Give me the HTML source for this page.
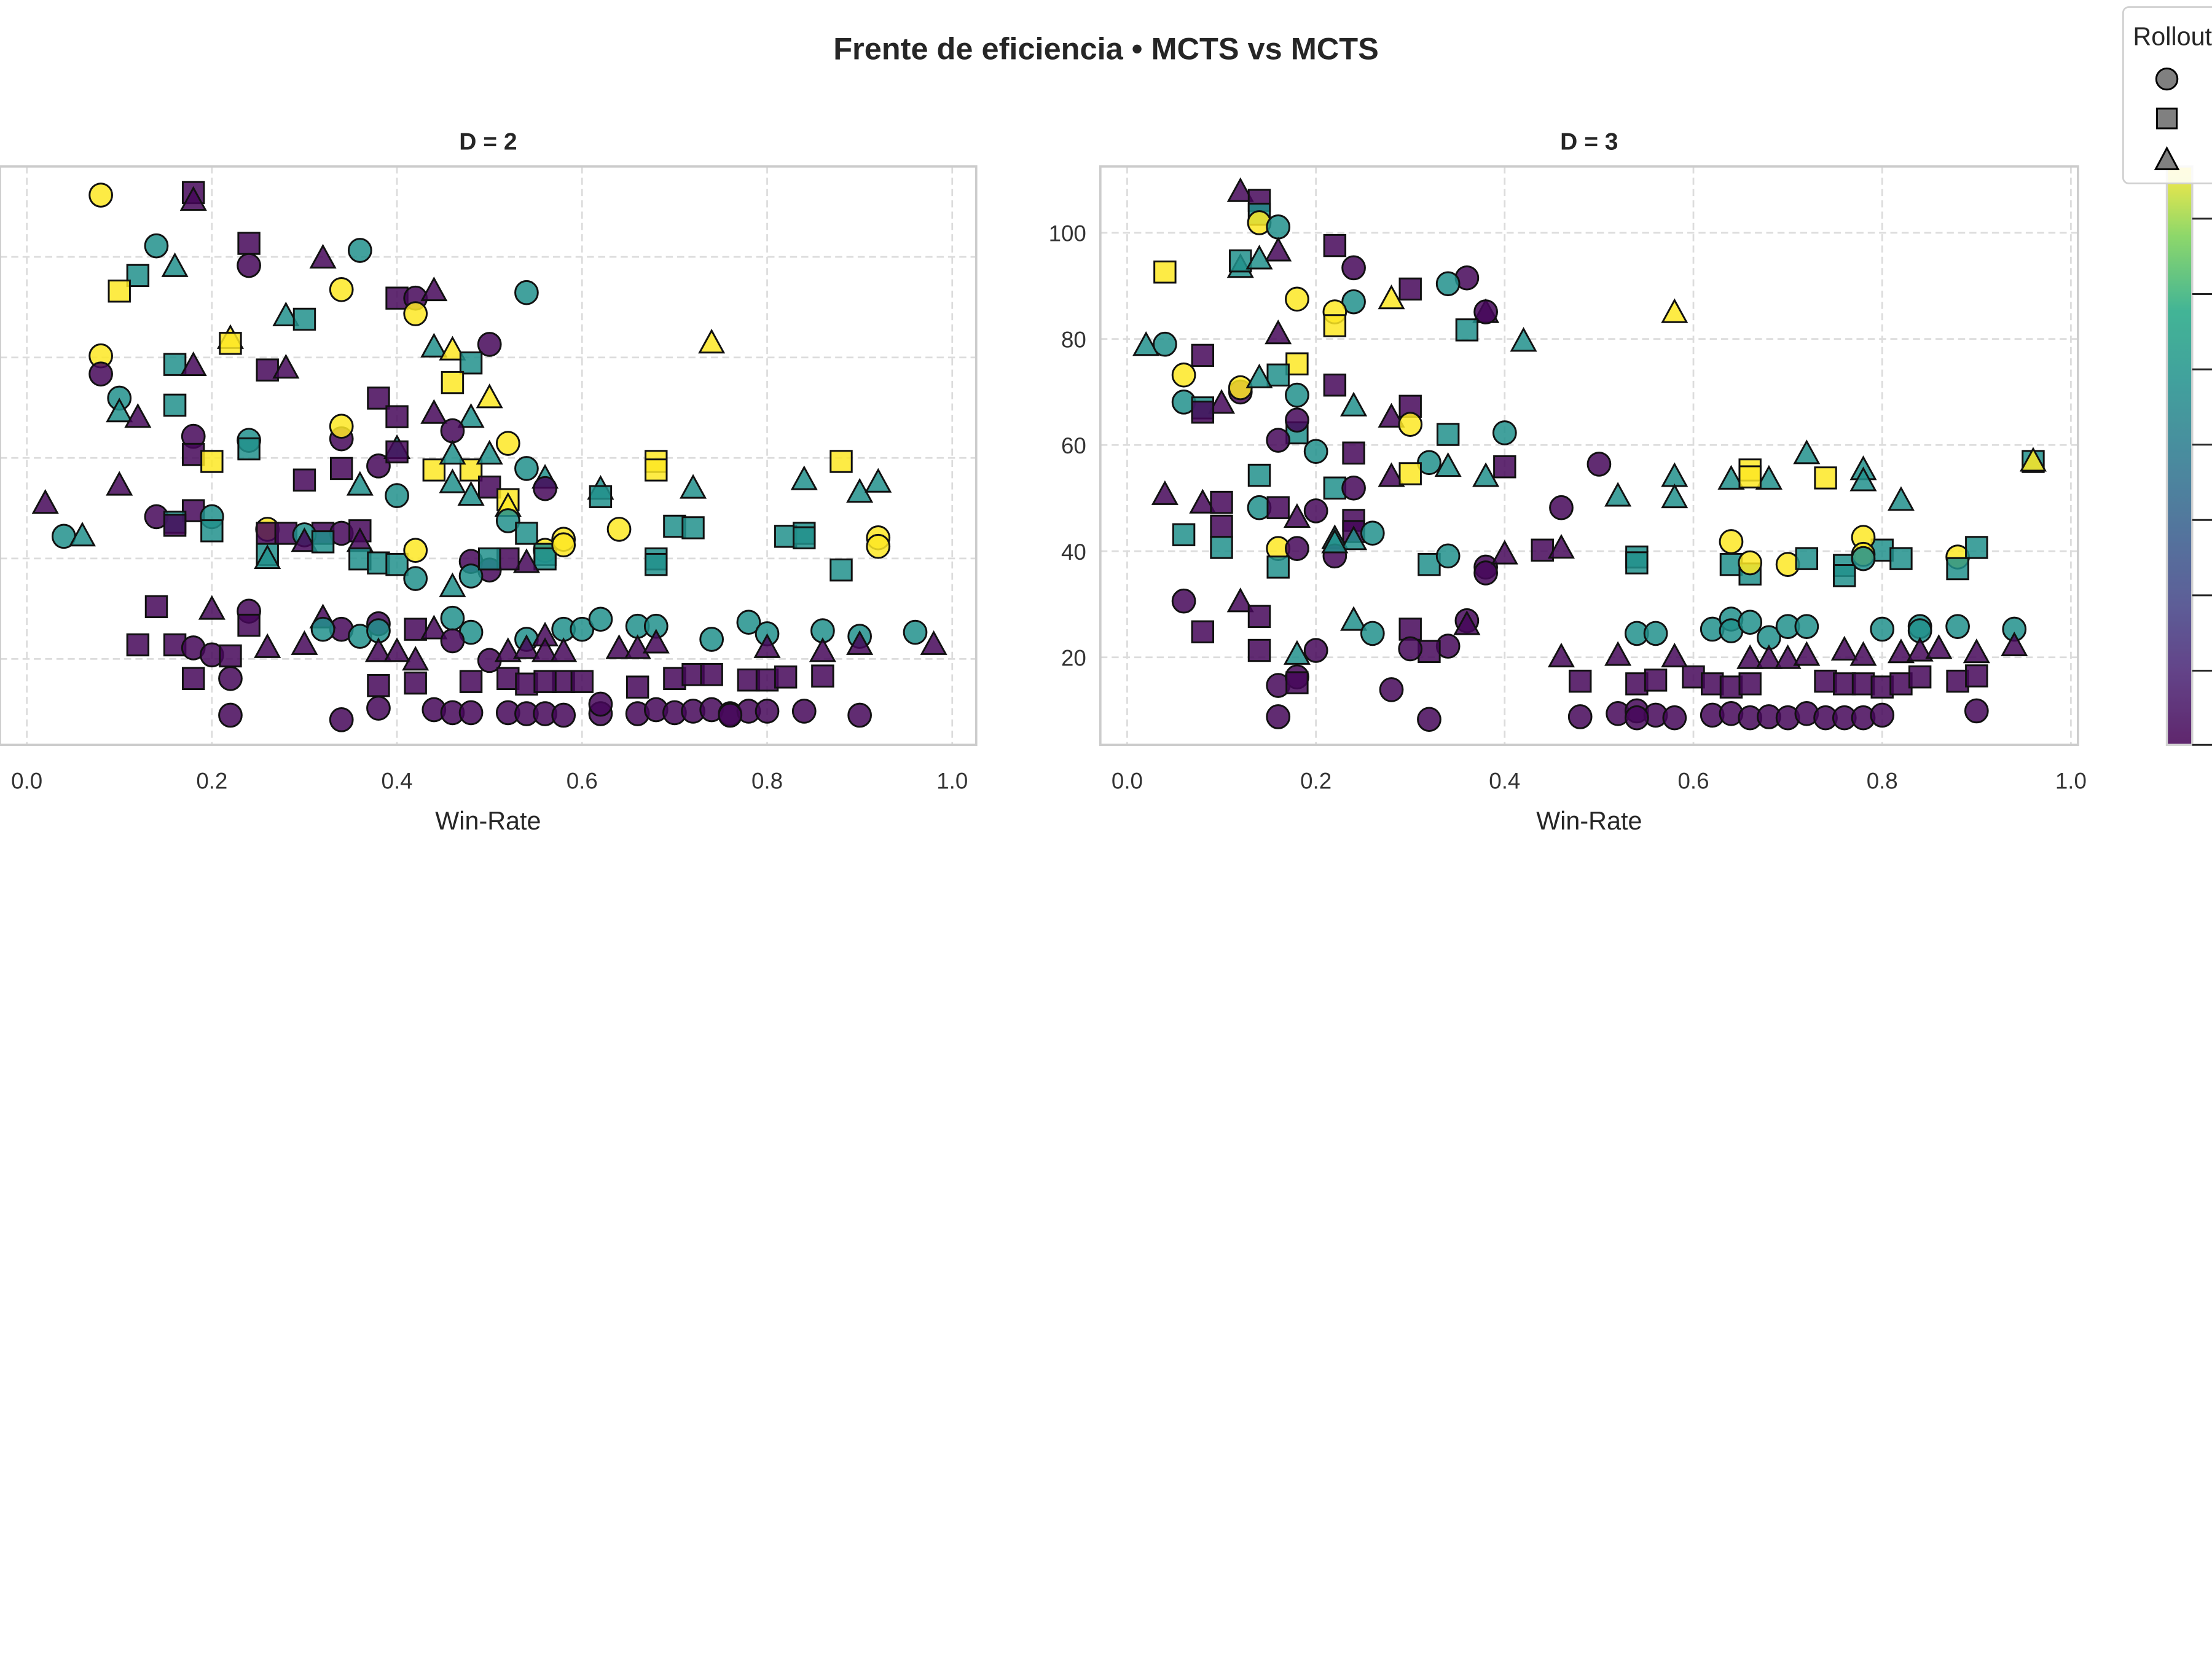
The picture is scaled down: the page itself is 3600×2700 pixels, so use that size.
<!DOCTYPE html>
<html><head><meta charset="utf-8"><style>
html,body{margin:0;padding:0;background:#fff;}
svg{display:block;font-family:"Liberation Sans",Arial,sans-serif;}
</style></head><body>
<svg id="chart" width="3600" height="2700" viewBox="0 0 1568 1176" xmlns="http://www.w3.org/2000/svg">
<defs>
<linearGradient id="vir" x1="0" y1="1" x2="0" y2="0">
<stop offset="0" stop-color="#440154"/><stop offset="0.13" stop-color="#482475"/><stop offset="0.25" stop-color="#414487"/><stop offset="0.38" stop-color="#355f8d"/><stop offset="0.5" stop-color="#2a788e"/><stop offset="0.63" stop-color="#21918c"/><stop offset="0.75" stop-color="#22a884"/><stop offset="0.88" stop-color="#7ad151"/><stop offset="1" stop-color="#fde725"/>
</linearGradient>
</defs>
<text x="784" y="42" text-anchor="middle" font-size="22" font-weight="bold" fill="#262626">Frente de eficiencia • MCTS vs MCTS</text>
<g id="panels"></g>
<g>
<rect x="1536" y="118" width="18" height="410" fill="url(#vir)" opacity="0.85" stroke="#ccc" stroke-width="1.5"/>
<g id="cbticks"></g>
</g>
<g>
<rect x="1505" y="5" width="70" height="125" rx="4" fill="#fff" fill-opacity="0.85" stroke="#d0d0d0" stroke-width="1.2"/>
<text x="1512" y="32" font-size="18" fill="#262626">Rollouts</text>
<circle cx="1536" cy="56" r="7.5" fill="#808080" stroke="#000" stroke-width="1.3"/>
<rect x="1529" y="77" width="14" height="14" fill="#808080" stroke="#000" stroke-width="1.3"/>
<polygon points="1536,105 1544,120 1528,120" fill="#808080" stroke="#000" stroke-width="1.3"/>
</g>
</svg>
<script>
const xTicks = [0.0, 0.2, 0.4, 0.6, 0.8, 1.0];
const yTicks = [20, 40, 60, 80, 100];
const cbTicks = [0, 1, 2, 3, 4, 5, 6, 7];
const panelTitles = ["D = 2", "D = 3"];
const colorVals = [0.02, 0.62, 1.0];
// [winRate, value, colorCategory, marker]
const pointsD2 = [
[0.08,112.3,2,'o'],[0.18,112.8,0,'s'],[0.18,111.2,0,'^'],[0.14,102.2,1,'o'],[0.24,102.7,0,'s'],[0.24,98.3,0,'o'],[0.36,101.3,1,'o'],[0.32,99.7,0,'^'],[0.12,96.3,1,'s'],[0.16,98,1,'^'],
[0.10,93.2,2,'s'],[0.34,93.5,2,'o'],[0.54,92.9,1,'o'],[0.40,91.8,0,'s'],[0.42,91.8,0,'o'],[0.44,93.2,0,'^'],[0.42,88.7,2,'o'],[0.28,88.2,1,'^'],[0.30,87.6,1,'s'],[0.22,83.7,2,'^'],
[0.22,82.8,2,'s'],[0.50,82.6,0,'o'],[0.44,82,1,'^'],[0.46,81.4,2,'^'],[0.48,78.9,1,'s'],[0.74,82.8,2,'^'],[0.08,80.3,2,'o'],[0.08,76.7,0,'o'],[0.16,78.6,1,'s'],[0.18,78.3,0,'^'],
[0.26,77.5,0,'s'],[0.28,77.8,0,'^'],[0.46,75,2,'s'],[0.50,71.9,2,'^'],[0.10,71.9,1,'o'],[0.16,70.5,1,'s'],[0.10,69.1,1,'^'],[0.12,68,0,'^'],[0.38,71.9,0,'s'],[0.40,68.2,0,'s'],
[0.44,68.8,0,'^'],[0.48,68,1,'^'],[0.46,65.4,0,'o'],[0.24,63.5,1,'o'],[0.18,64.3,0,'o'],[0.34,63.8,0,'o'],[0.34,66.3,2,'o'],[0.52,62.9,2,'o'],[0.18,60.7,0,'s'],[0.20,59.3,2,'s'],
[0.24,61.8,1,'s'],[0.30,55.6,0,'s'],[0.34,57.9,0,'s'],[0.38,58.4,0,'o'],[0.40,61.8,1,'^'],[0.40,61.2,0,'s'],[0.44,57.6,2,'s'],[0.48,57.6,2,'s'],[0.46,60.7,1,'^'],[0.50,60.7,1,'^'],
[0.54,57.9,1,'o'],[0.56,55.9,1,'^'],[0.56,53.9,0,'o'],[0.68,59.3,2,'s'],[0.68,57.6,2,'s'],[0.62,53.7,1,'^'],[0.62,52.3,1,'s'],[0.72,53.9,1,'^'],[0.88,59.3,2,'s'],[0.84,55.6,1,'^'],
[0.90,53.1,1,'^'],[0.92,55.1,1,'^'],[0.36,54.5,1,'^'],[0.02,50.9,0,'^'],[0.10,54.5,0,'^'],[0.40,52.5,1,'o'],[0.46,55,1,'^'],[0.48,52.5,1,'^'],[0.50,54.2,0,'s'],[0.52,51.7,2,'s'],
[0.52,50.3,2,'^'],[0.52,47.5,1,'o'],[0.04,44.4,1,'o'],[0.06,44.4,1,'^'],[0.14,48.3,0,'o'],[0.18,49.5,0,'s'],[0.20,48.3,1,'o'],[0.16,47.2,1,'s'],[0.16,46.6,0,'s'],[0.26,45.8,2,'o'],
[0.26,45,0,'s'],[0.28,45,0,'s'],[0.32,45,0,'s'],[0.30,44.7,1,'o'],[0.34,45,0,'o'],[0.36,45.5,0,'s'],[0.20,45.5,1,'s'],[0.26,40.8,1,'s'],[0.26,39.9,1,'^'],[0.30,43.3,0,'^'],
[0.36,43.3,0,'^'],[0.36,39.9,1,'s'],[0.38,39.1,1,'s'],[0.40,38.8,1,'s'],[0.42,41.6,2,'o'],[0.32,43.3,1,'s'],[0.54,45,1,'s'],[0.56,41.6,2,'o'],[0.56,40.8,1,'s'],[0.56,39.9,1,'s'],
[0.58,43.8,2,'o'],[0.58,42.7,2,'o'],[0.64,45.8,2,'o'],[0.68,39.9,1,'s'],[0.68,38.8,1,'s'],[0.70,46.4,1,'s'],[0.72,46.1,1,'s'],[0.82,44.4,1,'s'],[0.84,45,1,'s'],[0.84,44.1,1,'s'],
[0.88,37.7,1,'s'],[0.92,44.1,2,'o'],[0.92,42.4,2,'o'],[0.48,39.4,0,'o'],[0.50,37.7,0,'o'],[0.48,36.5,1,'o'],[0.54,39.1,0,'^'],[0.52,39.9,0,'s'],[0.50,39.9,1,'s'],[0.42,36,1,'o'],
[0.46,34.3,1,'^'],[0.14,30.4,0,'s'],[0.20,29.8,0,'^'],[0.24,29.5,0,'o'],[0.24,26.7,0,'s'],[0.46,28.1,1,'o'],[0.32,28.1,0,'^'],[0.34,25.9,0,'o'],[0.32,25.9,1,'o'],[0.36,24.5,1,'o'],
[0.38,27,0,'o'],[0.38,25.6,1,'o'],[0.42,25.9,0,'s'],[0.44,25.9,0,'^'],[0.48,25.3,1,'o'],[0.46,23.6,0,'o'],[0.54,23.9,1,'o'],[0.56,24.5,0,'^'],[0.58,25.9,1,'o'],[0.60,25.9,1,'o'],
[0.62,27.9,1,'o'],[0.66,26.5,1,'o'],[0.68,26.5,1,'o'],[0.74,23.9,1,'o'],[0.78,27.3,1,'o'],[0.80,25,1,'o'],[0.86,25.6,1,'o'],[0.90,24.5,1,'o'],[0.96,25.3,1,'o'],[0.98,22.8,0,'^'],
[0.12,22.8,0,'s'],[0.16,22.8,0,'s'],[0.18,22.2,0,'o'],[0.20,20.8,0,'o'],[0.22,20.6,0,'s'],[0.26,22.2,0,'^'],[0.30,22.8,0,'^'],[0.38,21.4,0,'^'],[0.40,21.4,0,'^'],[0.42,19.7,0,'^'],
[0.50,19.7,0,'o'],[0.52,21.4,0,'^'],[0.54,22,0,'^'],[0.56,21.4,0,'^'],[0.58,21.4,0,'^'],[0.64,22,0,'^'],[0.66,22,0,'^'],[0.68,23.1,0,'^'],[0.80,22.2,0,'^'],[0.86,21.4,0,'^'],
[0.90,22.8,0,'^'],[0.18,16.1,0,'s'],[0.22,16.1,0,'o'],[0.38,14.7,0,'s'],[0.42,15.2,0,'s'],[0.48,15.5,0,'s'],[0.52,16.1,0,'s'],[0.54,15,0,'s'],[0.58,15.5,0,'s'],[0.60,15.5,0,'s'],
[0.66,14.4,0,'s'],[0.70,16.1,0,'s'],[0.72,16.9,0,'s'],[0.74,16.9,0,'s'],[0.78,15.8,0,'s'],[0.80,15.8,0,'s'],[0.82,16.4,0,'s'],[0.86,16.6,0,'s'],[0.56,15.5,0,'s'],[0.38,10.2,0,'o'],
[0.22,8.8,0,'o'],[0.34,7.9,0,'o'],[0.44,9.9,0,'o'],[0.46,9.3,0,'o'],[0.48,9.3,0,'o'],[0.52,9.3,0,'o'],[0.54,9.1,0,'o'],[0.56,9.1,0,'o'],[0.58,8.8,0,'o'],[0.62,9.1,0,'o'],
[0.62,11,0,'o'],[0.66,9.1,0,'o'],[0.68,9.9,0,'o'],[0.70,9.3,0,'o'],[0.72,9.6,0,'o'],[0.74,9.9,0,'o'],[0.76,9.1,0,'o'],[0.78,9.6,0,'o'],[0.80,9.6,0,'o'],[0.84,9.6,0,'o'],
[0.90,8.8,0,'o'],[0.76,8.8,0,'o']
];
const pointsD3 = [
[0.12,107.7,0,'^'],[0.14,106.1,0,'s'],[0.14,103.5,1,'s'],[0.14,101.9,2,'o'],[0.16,101.1,1,'o'],[0.22,97.6,0,'s'],[0.16,96.5,0,'^'],[0.24,93.4,0,'o'],[0.12,93.4,1,'^'],[0.12,94.7,1,'s'],
[0.14,95,1,'^'],[0.04,92.6,2,'s'],[0.36,91.5,0,'o'],[0.34,90.4,1,'o'],[0.30,89.4,0,'s'],[0.18,87.5,2,'o'],[0.28,87.5,2,'^'],[0.24,87,1,'o'],[0.22,85.1,2,'o'],[0.22,82.5,2,'s'],
[0.58,84.9,2,'^'],[0.38,84.9,0,'^'],[0.38,85.1,0,'o'],[0.36,81.7,1,'s'],[0.42,79.5,1,'^'],[0.02,78.7,1,'^'],[0.04,79,1,'o'],[0.16,80.9,0,'^'],[0.08,76.9,0,'s'],[0.06,73.2,2,'o'],
[0.18,75.3,2,'s'],[0.16,73.2,1,'s'],[0.12,70,0,'o'],[0.12,70.8,2,'o'],[0.10,67.8,0,'^'],[0.06,68.1,1,'o'],[0.08,67,1,'s'],[0.08,66.2,0,'s'],[0.22,71.3,0,'s'],[0.18,69.4,1,'o'],
[0.14,72.6,1,'^'],[0.24,67.3,1,'^'],[0.28,65.2,0,'^'],[0.30,67.3,0,'s'],[0.30,63.9,2,'o'],[0.18,62.3,1,'s'],[0.18,64.7,0,'o'],[0.16,60.9,0,'o'],[0.20,58.8,1,'o'],[0.24,58.5,0,'s'],
[0.32,56.7,1,'o'],[0.34,62,1,'s'],[0.40,62.3,1,'o'],[0.72,58.3,1,'^'],[0.78,55.3,1,'^'],[0.78,53.2,1,'^'],[0.34,55.9,1,'^'],[0.38,54,1,'^'],[0.40,55.9,0,'s'],[0.28,54,0,'^'],
[0.30,54.6,2,'s'],[0.58,54,1,'^'],[0.64,53.5,1,'^'],[0.68,53.5,1,'^'],[0.58,50,1,'^'],[0.66,55.3,2,'s'],[0.66,54,2,'s'],[0.74,53.8,2,'s'],[0.96,56.9,1,'s'],[0.96,56.9,2,'^'],
[0.82,49.5,1,'^'],[0.52,50.3,1,'^'],[0.04,50.6,0,'^'],[0.08,49,0,'^'],[0.10,49.2,0,'s'],[0.14,54.3,1,'s'],[0.14,48.2,1,'o'],[0.22,51.9,1,'s'],[0.24,51.9,0,'o'],[0.50,56.4,0,'o'],
[0.10,44.7,0,'s'],[0.20,47.6,0,'o'],[0.06,43.1,1,'s'],[0.16,48.2,0,'s'],[0.24,45.8,0,'s'],[0.24,43.7,0,'s'],[0.22,42.3,1,'^'],[0.24,42.1,1,'^'],[0.18,46.3,0,'^'],[0.16,40.5,2,'o'],
[0.18,40.5,0,'o'],[0.10,40.7,1,'s'],[0.22,39.1,0,'o'],[0.22,41.5,1,'^'],[0.26,43.4,1,'o'],[0.16,37,1,'s'],[0.32,37.5,1,'s'],[0.34,39.1,1,'o'],[0.38,37,0,'o'],[0.38,35.9,0,'o'],
[0.44,40.2,0,'s'],[0.40,39.4,0,'^'],[0.46,40.5,0,'^'],[0.46,48.2,0,'o'],[0.54,38.9,1,'s'],[0.54,37.8,1,'s'],[0.64,41.8,2,'o'],[0.64,37.5,1,'s'],[0.66,35.7,1,'s'],[0.66,37.8,2,'o'],
[0.70,37.5,2,'o'],[0.72,38.6,1,'s'],[0.76,37.3,1,'s'],[0.76,35.4,1,'s'],[0.80,40.2,1,'s'],[0.82,38.6,1,'s'],[0.78,42.6,2,'o'],[0.78,39.4,2,'o'],[0.78,38.6,1,'o'],[0.88,38.9,2,'o'],
[0.88,36.7,1,'s'],[0.90,40.7,1,'s'],[0.12,30.4,0,'^'],[0.14,27.7,0,'s'],[0.06,30.6,0,'o'],[0.08,24.8,0,'s'],[0.14,21.3,0,'s'],[0.20,21.3,0,'o'],[0.18,20.5,1,'^'],[0.24,26.9,1,'^'],
[0.26,24.5,1,'o'],[0.30,25.3,0,'s'],[0.36,26.9,0,'o'],[0.36,26.1,0,'^'],[0.34,22.1,0,'o'],[0.32,21.1,0,'s'],[0.30,21.6,0,'o'],[0.54,24.5,1,'o'],[0.56,24.5,1,'o'],[0.62,25.3,1,'o'],
[0.64,27.2,1,'o'],[0.64,25,1,'o'],[0.66,26.6,1,'o'],[0.68,23.7,1,'o'],[0.70,25.8,1,'o'],[0.72,25.8,1,'o'],[0.80,25.3,1,'o'],[0.84,25.8,1,'o'],[0.84,25,1,'o'],[0.88,25.8,1,'o'],
[0.94,25.3,1,'o'],[0.46,20,0,'^'],[0.52,20.3,0,'^'],[0.58,20,0,'^'],[0.66,19.7,0,'^'],[0.68,19.7,0,'^'],[0.70,19.7,0,'^'],[0.72,20.3,0,'^'],[0.76,21.3,0,'^'],[0.78,20.3,0,'^'],
[0.82,20.8,0,'^'],[0.84,21.1,0,'^'],[0.86,21.6,0,'^'],[0.90,20.8,0,'^'],[0.94,22.1,0,'^'],[0.16,14.7,0,'o'],[0.18,16.3,0,'o'],[0.18,15.2,0,'s'],[0.28,13.9,0,'o'],[0.48,15.5,0,'s'],
[0.54,15,0,'s'],[0.56,15.7,0,'s'],[0.60,16.3,0,'s'],[0.62,15,0,'s'],[0.64,14.4,0,'s'],[0.66,15,0,'s'],[0.74,15.5,0,'s'],[0.76,15,0,'s'],[0.78,15,0,'s'],[0.80,14.4,0,'s'],
[0.82,15,0,'s'],[0.84,16.3,0,'s'],[0.88,15.5,0,'s'],[0.90,16.5,0,'s'],[0.16,8.8,0,'o'],[0.32,8.3,0,'o'],[0.48,8.8,0,'o'],[0.52,9.4,0,'o'],[0.54,9.9,0,'o'],[0.56,9.1,0,'o'],
[0.58,8.6,0,'o'],[0.62,9.1,0,'o'],[0.64,9.4,0,'o'],[0.66,8.6,0,'o'],[0.68,8.8,0,'o'],[0.70,8.6,0,'o'],[0.72,9.4,0,'o'],[0.74,8.6,0,'o'],[0.76,8.6,0,'o'],[0.78,8.6,0,'o'],
[0.80,9.1,0,'o'],[0.90,9.9,0,'o'],[0.54,8.6,0,'o']
];

(function(){
const NS = "http://www.w3.org/2000/svg";
function mk(tag, attrs, parent){const e=document.createElementNS(NS,tag);for(const k in attrs)e.setAttribute(k,attrs[k]);parent.appendChild(e);return e;}
function viridis(t){
  const s=[[68,1,84],[72,36,117],[65,68,135],[53,95,141],[42,120,142],[33,145,140],[34,168,132],[122,209,81],[253,231,37]];
  const p=t*(s.length-1),i=Math.min(Math.floor(p),s.length-2),f=p-i;
  const c=s[i].map((v,k)=>Math.round(v+(s[i+1][k]-v)*f));
  return `rgb(${c[0]},${c[1]},${c[2]})`;
}
const panels=[
  {pts:pointsD2,x0:19,x1:675,left:0,right:692,ymin:2.9,ymax:118,yLabels:false},
  {pts:pointsD3,x0:799,x1:1468,left:780,right:1473,ymin:3.5,ymax:112.5,yLabels:true}
];
const axTop=118,axBottom=528;
const root=document.getElementById('panels');
panels.forEach((P,pi)=>{
  const g=mk('g',{},root);
  
  
  const sx=v=>P.x0+(P.x1-P.x0)*v;
  const sy=v=>axBottom-(v-P.ymin)/(P.ymax-P.ymin)*(axBottom-axTop);
  xTicks.forEach(t=>{
    const l=mk('line',{x1:sx(t),x2:sx(t),y1:axTop,y2:axBottom,stroke:'#dcdcdc','stroke-width':1.2,'stroke-dasharray':'5,3'},g);
    
    
    const tx=mk('text',{x:sx(t),y:559,'text-anchor':'middle','font-size':16,fill:'#333'},g);
    
    
    tx.textContent=t.toFixed(1);
  });
  yTicks.forEach(t=>{
    const l=mk('line',{x1:P.left,x2:P.right,y1:sy(t),y2:sy(t),stroke:'#dcdcdc','stroke-width':1.2,'stroke-dasharray':'5,3'},g);
    
    
    if(P.yLabels){
      const tx=mk('text',{x:P.left-10,y:sy(t)+6,'text-anchor':'end','font-size':16,fill:'#333'},g);
      
      
      tx.textContent=t;
    }
  });
  const ttl=mk('text',{x:(P.left+P.right)/2,y:106,'text-anchor':'middle','font-size':17,'font-weight':'bold',fill:'#262626'},g);
  
  
  ttl.textContent=panelTitles[pi];
  const xl=mk('text',{x:(P.left+P.right)/2,y:588,'text-anchor':'middle','font-size':18,fill:'#262626'},g);
  
  
  xl.textContent='Win-Rate';
  const mg=mk('g',{},g);
  P.pts.forEach(p=>{
    const cx=sx(p[0]),cy=sy(p[1]),fill=viridis(colorVals[p[2]]);
    const st={fill:fill,'fill-opacity':0.85,stroke:'#111','stroke-width':1.3};
    let e;
    if(p[3]==='o'){e=mk('ellipse',Object.assign({cx:cx,cy:cy,rx:8,ry:8.2},st),mg);}
    else if(p[3]==='s'){e=mk('rect',Object.assign({x:cx-7.5,y:cy-7.5,width:15,height:15},st),mg);}
    else{e=mk('polygon',Object.assign({points:`${cx},${cy-9} ${cx+8.5},${cy+6.5} ${cx-8.5},${cy+6.5}`},st),mg);}
    
    
  });
  const fr=mk('rect',{x:P.left,y:axTop,width:P.right-P.left,height:axBottom-axTop,fill:'none',stroke:'#cccccc','stroke-width':1.6},g);
  
  
});
const cbg=document.getElementById('cbticks');
cbTicks.forEach(t=>{
  const y=Math.min(155+t*53.4,528);
  const l=mk('line',{x1:1554,x2:1568,y1:y,y2:y,stroke:'#262626','stroke-width':1.3},cbg);
  
  
});
})();
</script>
</body></html>
